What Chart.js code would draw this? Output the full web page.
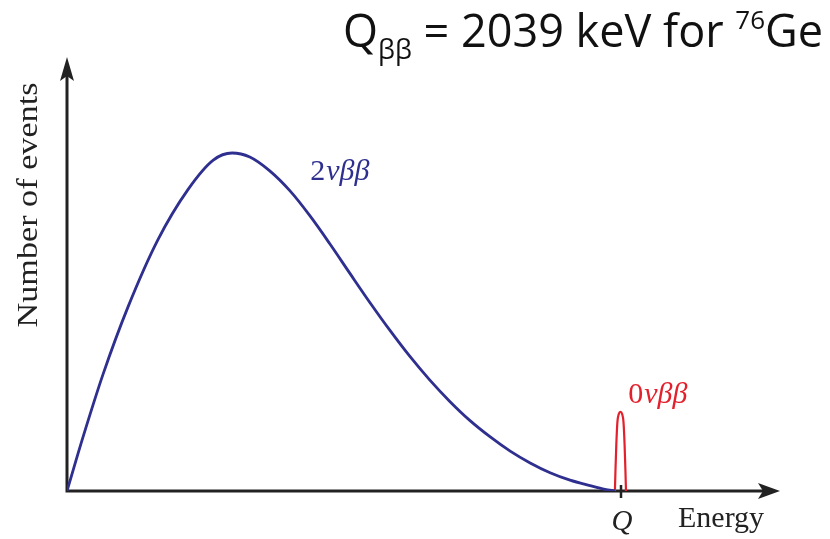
<!DOCTYPE html>
<html>
<head>
<meta charset="utf-8">
<script src="https://cdn.jsdelivr.net/npm/chart.js@4/dist/chart.umd.min.js"></script>
<style>
  html, body { margin: 0; padding: 0; background: #ffffff; }
  #c { display: block; }
</style>
</head>
<body>
<canvas id="c" width="830" height="539"></canvas>
<script>
// Energy in units of the Q value; event counts normalised to the 2νββ maximum.
const energy2nu = [0, 0.029, 0.065, 0.110, 0.164, 0.218, 0.264, 0.298, 0.330,
                   0.366, 0.403, 0.439, 0.475, 0.511, 0.547, 0.583, 0.619, 0.655, 0.691,
                   0.727, 0.764, 0.800, 0.836, 0.872, 0.908, 0.944, 0.971, 0.989];
const events2nu = [0, 0.160, 0.345, 0.544, 0.743, 0.891, 0.979, 1.000, 0.988,
                   0.947, 0.887, 0.813, 0.730, 0.643, 0.557, 0.475, 0.398, 0.328, 0.265,
                   0.209, 0.160, 0.118, 0.083, 0.054, 0.032, 0.016, 0.005, 0];
const energy0nu = [0.989, 0.990, 0.9915, 0.9935, 0.996, 0.999, 1.002, 1.0045, 1.0065, 1.008, 1.009];
const events0nu = [0, 0.060, 0.136, 0.204, 0.228, 0.234, 0.228, 0.204, 0.136, 0.060, 0];
const qValue = 1.0;
const xTickLabels = ['Q'];
const axisTitles = { x: 'Energy', y: 'Number of events' };
const energyMax = 1.287;
const eventsMax = 1.284;

const BLUE = '#2e2f8f';
const RED = '#e3202b';
const AXIS = '#222222';
const SERIF = '"Liberation Serif", "DejaVu Serif", serif';

const toPoints = (xs, ys) => xs.map((x, i) => ({ x, y: ys[i] }));

// Axes with arrowheads, the Q tick mark and all annotations.
const decorations = {
  id: 'decorations',
  beforeDatasetsDraw(chart) {
    const { ctx, chartArea: a } = chart;
    ctx.save();
    ctx.strokeStyle = AXIS;
    ctx.fillStyle = AXIS;
    ctx.lineWidth = 3;
    ctx.beginPath();
    ctx.moveTo(a.left - 1.5, a.bottom);
    ctx.lineTo(a.right - 12, a.bottom);
    ctx.moveTo(a.left, a.bottom + 1.5);
    ctx.lineTo(a.left, a.top + 12);
    ctx.stroke();
    // x arrowhead
    ctx.beginPath();
    ctx.moveTo(a.right, a.bottom);
    ctx.lineTo(a.right - 22, a.bottom - 8);
    ctx.lineTo(a.right - 17, a.bottom);
    ctx.lineTo(a.right - 22, a.bottom + 8);
    ctx.closePath();
    ctx.fill();
    // y arrowhead
    ctx.beginPath();
    ctx.moveTo(a.left, a.top);
    ctx.lineTo(a.left - 7, a.top + 24);
    ctx.lineTo(a.left, a.top + 19);
    ctx.lineTo(a.left + 7, a.top + 24);
    ctx.closePath();
    ctx.fill();
    ctx.restore();
  },
  afterDatasetsDraw(chart) {
    const { ctx, chartArea: a, scales: { x, y } } = chart;
    ctx.save();
    // Q tick
    const qx = x.getPixelForValue(qValue);
    ctx.strokeStyle = AXIS;
    ctx.lineWidth = 2.5;
    ctx.beginPath();
    ctx.moveTo(qx, a.bottom - 6);
    ctx.lineTo(qx, a.bottom + 7);
    ctx.stroke();

    ctx.fillStyle = '#222222';
    ctx.textBaseline = 'alphabetic';
    ctx.textAlign = 'center';
    ctx.font = 'italic 29px ' + SERIF;
    ctx.fillText(xTickLabels[0], qx + 1, a.bottom + 39);

    ctx.textAlign = 'left';
    ctx.font = '30px ' + SERIF;
    ctx.fillText(axisTitles.x, 678, a.bottom + 36);

    // y axis title
    ctx.save();
    ctx.translate(37, 205);
    ctx.rotate(-Math.PI / 2);
    ctx.scale(1.14, 1);
    ctx.textAlign = 'center';
    ctx.font = '30px ' + SERIF;
    ctx.fillText(axisTitles.y, 0, 0);
    ctx.restore();

    // series labels
    const seriesLabel = (lead, rest, ex, ey, color) => {
      ctx.fillStyle = color;
      ctx.textAlign = 'left';
      let px = x.getPixelForValue(ex);
      const py = y.getPixelForValue(ey);
      ctx.font = '30px ' + SERIF;
      ctx.fillText(lead, px, py);
      px += ctx.measureText(lead).width + 1;
      ctx.font = 'italic 30px ' + SERIF;
      ctx.fillText(rest, px, py);
    };
    seriesLabel('2', 'νββ', 0.439, 0.92, BLUE);
    seriesLabel('0', 'νββ', 1.013, 0.26, RED);

    // title, right-aligned at the top
    const TF = '"Open Sans", "Noto Sans", sans-serif';
    const parts = [
      { t: 'Q', f: '45px ' + TF, dy: 0 },
      { t: 'ββ', f: '27px ' + TF, dy: 12 },
      { t: ' = 2039 keV for ', f: '45px ' + TF, dy: 0 },
      { t: '76', f: '26px ' + TF, dy: -18 },
      { t: 'Ge', f: '45px ' + TF, dy: 0 }
    ];
    let total = 0;
    parts.forEach(p => { ctx.font = p.f; p.w = ctx.measureText(p.t).width; total += p.w; });
    let tx = 823 - total;
    ctx.fillStyle = '#111111';
    parts.forEach(p => {
      ctx.font = p.f;
      ctx.fillText(p.t, tx, 47 + p.dy);
      tx += p.w;
    });
    ctx.restore();
  }
};

new Chart(document.getElementById('c'), {
  type: 'line',
  data: {
    datasets: [
      {
        label: '2νββ',
        data: toPoints(energy2nu, events2nu),
        borderColor: BLUE,
        borderWidth: 2.8,
        cubicInterpolationMode: 'monotone',
        pointRadius: 0,
        fill: false
      },
      {
        label: '0νββ',
        data: toPoints(energy0nu, events0nu),
        borderColor: RED,
        borderWidth: 2.2,
        cubicInterpolationMode: 'monotone',
        pointRadius: 0,
        fill: false
      }
    ]
  },
  options: {
    responsive: false,
    animation: false,
    layout: { padding: { left: 67, right: 50, top: 57, bottom: 48 } },
    scales: {
      x: { type: 'linear', display: false, min: 0, max: energyMax },
      y: { type: 'linear', display: false, min: 0, max: eventsMax }
    },
    plugins: { legend: { display: false }, tooltip: { enabled: false } }
  },
  plugins: [decorations]
});
</script>
</body>
</html>
